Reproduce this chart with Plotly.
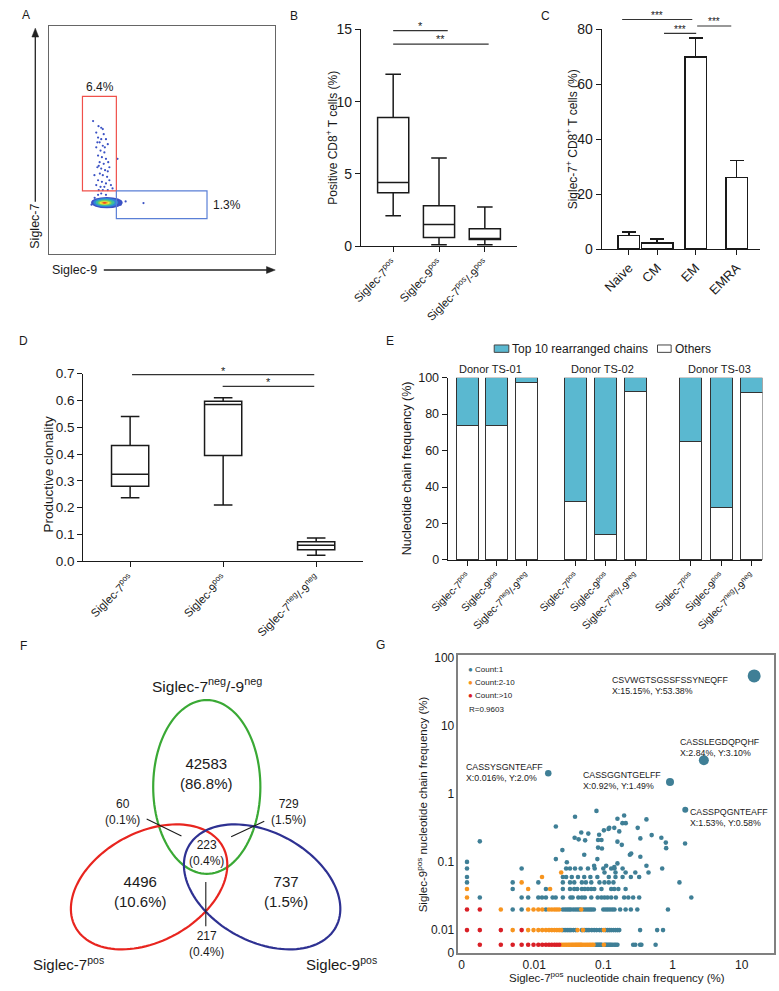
import math
import plotly.graph_objects as go

W, H = 779, 991
FONT = "Liberation Sans, Arial, Helvetica, sans-serif"
INK = "#1a1a1a"

# ------------------------------------------------------------------ data
# A  flow plot (percent-of-plot units)
a_events_x = [19.4, 21.8, 23.0, 20.8, 24.1, 21.6, 23.0, 25.1, 22.3, 23.7, 25.9, 20.8, 22.7, 24.4,
              21.6, 23.3, 25.1, 22.3, 24.1, 26.1, 21.3, 23.0, 24.7, 22.4, 23.7, 25.6, 21.6, 23.3,
              25.1, 26.6, 20.8, 22.7, 24.4, 27.3, 21.9, 23.7, 25.9, 28.0, 30.2, 23.7, 21.3, 24.6,
              21.9, 25.9, 20.0, 26.6, 23.0, 25.1, 21.6, 20.1, 28.7, 31.6, 33.8, 18.7, 41.7]
a_events_y = [58.2, 56.0, 55.3, 53.2, 52.5, 51.0, 50.3, 50.3, 48.9, 47.4, 48.1, 46.7, 45.3, 44.5,
              43.1, 42.4, 41.7, 40.2, 39.5, 40.2, 38.0, 37.4, 36.7, 35.2, 34.5, 33.8, 32.3, 31.6,
              30.9, 32.3, 30.2, 29.4, 29.4, 30.2, 28.0, 28.0, 28.0, 28.7, 41.7, 54.7, 48.9, 46.7,
              38.6, 36.2, 34.5, 38.0, 26.5, 25.9, 25.9, 24.6, 23.0, 21.6, 23.0, 21.6, 22.3]
a_gate_pct = ["6.4%", "1.3%"]
# density core contours: (x0, x1, y0, y1, colour)
a_core = [(18.5, 32.5, 20.0, 25.0, "#3b52c4"), (19.5, 30.5, 20.6, 24.5, "#2f86d8"),
          (20.5, 29.0, 21.0, 24.0, "#3cbf9c"), (21.6, 27.6, 21.4, 23.5, "#8fd14f"),
          (22.3, 26.8, 21.7, 23.1, "#f2e43c"), (23.0, 26.0, 21.9, 22.9, "#f5a623"),
          (23.6, 25.4, 22.1, 22.7, "#e8251f")]

# B
b_groups = ["Siglec-7<sup>pos</sup>", "Siglec-9<sup>pos</sup>", "Siglec-7<sup>pos</sup>/-9<sup>pos</sup>"]
b_low = [2.1, 0.1, 0.1]
b_q1 = [3.7, 0.6, 0.45]
b_med = [4.4, 1.5, 0.5]
b_q3 = [8.9, 2.8, 1.2]
b_high = [11.9, 6.1, 2.7]

# C
c_subsets = ["Naive", "CM", "EM", "EMRA"]
c_mean = [5.0, 2.2, 69.9, 26.1]
c_sem = [1.2, 1.4, 6.9, 6.1]

# D
d_groups = ["Siglec-7<sup>pos</sup>", "Siglec-9<sup>pos</sup>", "Siglec-7<sup>neg</sup>/-9<sup>neg</sup>"]
d_low = [0.237, 0.21, 0.022]
d_q1 = [0.28, 0.395, 0.043]
d_med = [0.325, 0.585, 0.060]
d_q3 = [0.432, 0.597, 0.073]
d_high = [0.54, 0.61, 0.087]

# E
e_donors = ["Donor TS-01", "Donor TS-02", "Donor TS-03"]
e_groups = ["Siglec-7<sup>pos</sup>", "Siglec-9<sup>pos</sup>", "Siglec-7<sup>neg</sup>/-9<sup>neg</sup>"] * 3
e_others = [74.0, 74.0, 97.3, 32.0, 14.0, 92.3, 64.7, 28.5, 92.0]
e_top10 = [26.0, 26.0, 2.7, 68.0, 86.0, 7.7, 35.3, 71.5, 8.0]
e_series = ["Top 10 rearranged chains", "Others"]

# F  Venn
f_sets = ["Siglec-7<sup>neg</sup>/-9<sup>neg</sup>", "Siglec-7<sup>pos</sup>", "Siglec-9<sup>pos</sup>"]
f_regions = {"neg_only": ("42583", "86.8%"), "s7_only": ("4496", "10.6%"), "s9_only": ("737", "1.5%"),
             "all": ("223", "0.4%"), "neg_s7": ("60", "0.1%"), "neg_s9": ("729", "1.5%"),
             "s7_s9": ("217", "0.4%")}

# G  (0 = zero frequency)
g_c1_rows = [
    (0, [0.077, 0.08, 0.083, 0.086, 0.089, 0.092, 0.095, 0.106, 0.11, 0.115, 0.12, 0.125, 0.13, 0.137,
         0.145, 0.152, 0.16, 0.27, 0.29, 0.34, 0.355, 0.57]),
    (0.01, [0.026, 0.028, 0.030, 0.032, 0.034, 0.037, 0.04, 0.049, 0.054, 0.058, 0.062, 0.068, 0.074,
            0.08, 0.088, 0.094, 0.108, 0.115, 0.122, 0.13, 0.14, 0.15, 0.16, 0.17, 0.34, 0.6, 0.73]),
    (0.02, [0.0049, 0.0066, 0.0148, 0.026, 0.028, 0.03, 0.032, 0.034, 0.037, 0.04, 0.043, 0.046, 0.052,
            0.056, 0.06, 0.064, 0.068, 0.073, 0.1, 0.108, 0.116, 0.125, 0.135, 0.145, 0.175, 0.21,
            0.25, 0.31, 0.86]),
    (0.03, [0.00164, 0.0066, 0.0082, 0.0115, 0.013, 0.0148, 0.0185, 0.0205, 0.026, 0.0335, 0.036,
            0.0435, 0.049, 0.054, 0.067, 0.083, 0.094, 0.104, 0.115, 0.13, 0.152, 0.2, 0.23, 0.27,
            0.33, 1.87]),
    (0.04, [0.0049, 0.0148, 0.026, 0.033, 0.038, 0.042, 0.049, 0.054, 0.06, 0.067, 0.074, 0.094, 0.13,
            0.144, 0.165, 0.21]),
    (0.05, [0.00107, 0.0049, 0.0115, 0.026, 0.033, 0.038, 0.049, 0.056, 0.067, 0.088, 0.104, 0.12,
            0.14, 1.26]),
    (0.06, [0.00107, 0.026, 0.029, 0.035, 0.043, 0.053, 0.065, 0.082, 0.12, 0.15, 0.19, 0.25, 0.33]),
    (0.07, [0.104, 0.15, 0.21, 0.29, 0.45]),
    (0.08, [0.00107, 0.0066, 0.029, 0.033, 0.039, 0.047, 0.06, 0.075, 0.1, 0.13, 0.145, 0.19, 0.71]),
    (0.1, [0.00107]),
]
g_c1_free_x = [0.00164, 0.0206, 0.039, 0.0796, 0.16, 0.2, 0.42, 0.0385, 0.044, 0.0546, 0.048, 0.0607,
               0.087, 0.102, 0.119, 0.144, 0.17, 0.189, 0.211, 0.314, 0.084, 0.16, 0.185, 0.343, 0.5,
               0.69, 0.8, 0.81, 1.52, 0.053, 0.084, 0.0955, 0.0256, 0.0206, 0.0297, 0.082, 0.0736,
               0.11, 0.16, 0.144, 0.242, 0.253, 0.343, 0.42, 0.094, 0.122]
g_c1_free_y = [0.2, 0.33, 0.46, 0.56, 0.43, 0.48, 0.42, 0.226, 0.214, 0.207, 0.27, 0.26, 0.25, 0.29,
               0.305, 0.316, 0.28, 0.37, 0.37, 0.316, 0.21, 0.198, 0.178, 0.221, 0.247, 0.226, 0.192,
               0.159, 0.186, 0.127, 0.162, 0.157, 0.149, 0.11, 0.099, 0.11, 0.088, 0.088, 0.095,
               0.084, 0.127, 0.133, 0.119, 0.088, 0.21, 0.316]
g_c2_rows = [
    (0, [0.0246, 0.0262, 0.0279, 0.0295, 0.0312, 0.0328, 0.0345, 0.0361, 0.0377, 0.0394, 0.041, 0.0426,
         0.0443, 0.0459, 0.0476, 0.0492, 0.0525, 0.0558, 0.059, 0.0623, 0.0656, 0.069, 0.0722, 0.102]),
    (0.01, [0.0049, 0.0082, 0.0098, 0.0115, 0.0131, 0.0148, 0.0164, 0.018, 0.0197, 0.0213, 0.023,
            0.0246, 0.0425, 0.051, 0.102]),
    (0.02, [0.0033, 0.0082, 0.0098, 0.0115, 0.0131, 0.0164, 0.018, 0.0197, 0.0213, 0.023, 0.048]),
    (0.03, [0.00107]),
    (0.04, [0.00107, 0.0082, 0.017]),
    (0.05, [0.0066]),
    (0.06, [0.013]),
    (0.07, [0.0246]),
]
g_c3_rows = [
    (0, [0.00164, 0.0033, 0.0049, 0.0066, 0.0082, 0.0098, 0.0115, 0.0131, 0.0148, 0.0164, 0.018,
         0.0197, 0.0213, 0.023]),
    (0.01, [0.00107, 0.00164, 0.0033, 0.0066]),
    (0.02, [0.00107, 0.00164]),
]
g_top_names = ["CSVWGTSGSSFSSYNEQFF", "CASSLEGDQPQHF", "CASSYSGNTEAFF", "CASSGGNTGELFF", "CASSPQGNTEAFF"]
g_top_x = [15.15, 2.84, 0.016, 0.92, 1.53]
g_top_y = [53.38, 3.10, 2.0, 1.49, 0.58]
g_top_txt = ["X:15.15%, Y:53.38%", "X:2.84%, Y:3.10%", "X:0.016%, Y:2.0%", "X:0.92%, Y:1.49%",
             "X:1.53%, Y:0.58%"]
g_legend = ["Count:1", "Count:2-10", "Count:>10"]
g_r = "R=0.9603"
G_ZERO_POS = 0.0061  # where a zero frequency is drawn on the log axis

# ------------------------------------------------------------------ helpers
def dx(a, b):
    return [a / W, b / W]


def dy(top, bottom):
    return [1 - bottom / H, 1 - top / H]


shapes, annos = [], []


def txt(px, py, s, size, xanchor="center", yanchor="middle", angle=0, color=INK, align="center"):
    annos.append(dict(x=px / W, y=1 - py / H, xref="paper", yref="paper", text=s, showarrow=False,
                      font=dict(family=FONT, size=size, color=color), xanchor=xanchor, align=align,
                      yanchor=yanchor, textangle=angle, borderpad=0))


def pline(x0, y0, x1, y1, color=INK, width=1.2):
    shapes.append(dict(type="line", xref="paper", yref="paper", x0=x0 / W, y0=1 - y0 / H,
                       x1=x1 / W, y1=1 - y1 / H, line=dict(color=color, width=width)))


def ppoly(pts, color):
    path = "M " + " L ".join(f"{x / W:.5f},{1 - y / H:.5f}" for x, y in pts) + " Z"
    shapes.append(dict(type="path", xref="paper", yref="paper", path=path, fillcolor=color,
                       line=dict(color=color, width=0.5)))


def ellipse(cx, cy, a, b, ang, color, width=2.2, n=120):
    t = math.radians(ang)
    pts = []
    for i in range(n + 1):
        th = 2 * math.pi * i / n
        x = cx + a * math.cos(th) * math.cos(t) - b * math.sin(th) * math.sin(t)
        y = cy + a * math.cos(th) * math.sin(t) + b * math.sin(th) * math.cos(t)
        pts.append(f"{x / W:.5f},{1 - y / H:.5f}")
    shapes.append(dict(type="path", xref="paper", yref="paper", path="M " + " L ".join(pts) + " Z",
                       line=dict(color=color, width=width)))


def rows_to_xy(rows):
    xs, ys = [], []
    for yv, xl in rows:
        for xv in xl:
            xs.append(xv)
            ys.append(G_ZERO_POS if yv == 0 else yv)
    return xs, ys


fig = go.Figure()
axis_line = dict(showline=True, linecolor=INK, linewidth=1.3, showgrid=False, zeroline=False,
                 ticks="outside", ticklen=5, tickwidth=1.3, tickcolor=INK)

# ------------------------------------------------------------------ A
fig.add_trace(go.Scatter(x=a_events_x, y=a_events_y, mode="markers", xaxis="x", yaxis="y",
                         marker=dict(size=2.2, color="#3b52c4"), hoverinfo="skip", showlegend=False))
for x0, x1, y0, y1, col in a_core:
    shapes.append(dict(type="circle", xref="x", yref="y", x0=x0, x1=x1, y0=y0, y1=y1,
                       fillcolor=col, line=dict(width=0), layer="above"))
shapes.append(dict(type="rect", xref="x", yref="y", x0=14.7, x1=29.7, y0=27.6, y1=69.0,
                   line=dict(color="#f0504a", width=1.2)))
shapes.append(dict(type="rect", xref="x", yref="y", x0=29.7, x1=69.8, y0=15.5, y1=27.6,
                   line=dict(color="#5a7fd6", width=1.2)))

# ------------------------------------------------------------------ B
b_pos = [1, 2, 3]
fig.add_trace(go.Box(x=b_pos, q1=b_q1, median=b_med, q3=b_q3, lowerfence=b_low, upperfence=b_high,
                     xaxis="x2", yaxis="y2", orientation="v", width=0.68, whiskerwidth=0.5,
                     fillcolor="white", line=dict(color=INK, width=1.5), boxpoints=False,
                     hoverinfo="skip", showlegend=False))

# ------------------------------------------------------------------ C
c_pos = [28, 57, 96.5, 138.5]
c_width = [22, 32, 22, 22]
fig.add_trace(go.Bar(x=c_pos, y=c_mean, width=c_width, xaxis="x3", yaxis="y3",
                     marker=dict(color="white", line=dict(color=INK, width=1.5)),
                     error_y=dict(type="data", array=c_sem, arrayminus=[0] * 4, symmetric=False,
                                  color=INK, thickness=1.5, width=7),
                     hoverinfo="skip", showlegend=False))

# ------------------------------------------------------------------ D
d_pos = [1, 2, 3]
fig.add_trace(go.Box(x=d_pos, q1=d_q1, median=d_med, q3=d_q3, lowerfence=d_low, upperfence=d_high,
                     xaxis="x4", yaxis="y4", orientation="v", width=0.4, whiskerwidth=0.5,
                     fillcolor="white", line=dict(color=INK, width=1.5), boxpoints=False,
                     hoverinfo="skip", showlegend=False))

# ------------------------------------------------------------------ E
TEAL = "#5ab8d0"
e_pos = [1, 2, 3, 4.64, 5.66, 6.66, 8.52, 9.54, 10.56]
fig.add_trace(go.Bar(x=e_pos, y=e_others, width=0.74, name=e_series[1], xaxis="x5", yaxis="y5",
                     marker=dict(color="white", line=dict(color="#333", width=1)),
                     hoverinfo="skip", showlegend=False))
fig.add_trace(go.Bar(x=e_pos, y=e_top10, width=0.74, name=e_series[0], xaxis="x5", yaxis="y5",
                     marker=dict(color=TEAL, line=dict(color="#333", width=1)),
                     hoverinfo="skip", showlegend=False))

# ------------------------------------------------------------------ G
C1, C2, C3 = "#3f7f96", "#f7941e", "#d91f26"
for rows, col, extra_x, extra_y in [(g_c1_rows, C1, g_c1_free_x, g_c1_free_y),
                                    (g_c2_rows, C2, [], []), (g_c3_rows, C3, [], [])]:
    xs, ys = rows_to_xy(rows)
    fig.add_trace(go.Scatter(x=xs + extra_x, y=ys + extra_y, mode="markers", xaxis="x6", yaxis="y6",
                             marker=dict(size=4.6, color=col, opacity=1, line=dict(width=0)),
                             hoverinfo="skip", showlegend=False))
fig.add_trace(go.Scatter(x=g_top_x, y=g_top_y, mode="markers", xaxis="x6", yaxis="y6",
                         marker=dict(size=[13, 10, 6.5, 8, 6], color=C1, opacity=1, line=dict(width=0)),
                         hoverinfo="skip", showlegend=False))

# ------------------------------------------------------------------ layout axes
hidden = dict(showgrid=False, zeroline=False, showticklabels=False, ticks="")
layout = dict(
    width=W, height=H, margin=dict(l=0, r=0, t=0, b=0), paper_bgcolor="white", plot_bgcolor="rgba(0,0,0,0)",
    font=dict(family=FONT, color=INK), barmode="stack", showlegend=False,
    xaxis=dict(domain=dx(30, 262), range=[0, 100], showline=True, mirror=True, linecolor="#666",
               linewidth=1, **hidden),
    yaxis=dict(domain=dy(18, 250), range=[0, 100], showline=True, mirror=True, linecolor="#666",
               linewidth=1, **hidden),
    xaxis2=dict(domain=dx(350, 510), range=[0.298, 3.70], tickvals=b_pos, ticktext=b_groups,
                tickangle=-45, tickfont=dict(size=11.5), anchor="y2", **axis_line),
    yaxis2=dict(domain=dy(21.7, 242), range=[0, 15], tickvals=[0, 5, 10, 15], tickfont=dict(size=14),
                anchor="x2", **axis_line),
    xaxis3=dict(domain=dx(597, 759), range=[0, 162], tickvals=c_pos, ticktext=c_subsets,
                tickangle=-45, tickfont=dict(size=13), anchor="y3", **axis_line),
    yaxis3=dict(domain=dy(21.7, 245), range=[0, 80], tickvals=[0, 20, 40, 60, 80],
                tickfont=dict(size=14), anchor="x3", **axis_line),
    xaxis4=dict(domain=dx(65, 352), range=[0.497, 3.503], tickvals=d_pos, ticktext=d_groups,
                tickangle=-45, tickfont=dict(size=11.5), anchor="y4", **axis_line),
    yaxis4=dict(domain=dy(371.7, 562.3), range=[0, 0.7], tickvals=[0, 0.1, 0.2, 0.3, 0.4, 0.5, 0.6, 0.7],
                tickformat=".1f", tickfont=dict(size=13.5), anchor="x4", **axis_line),
    xaxis5=dict(domain=dx(439, 762), range=[0.344, 10.93], tickvals=e_pos, ticktext=e_groups,
                tickangle=-45, tickfont=dict(size=10.5), anchor="y5", **axis_line),
    yaxis5=dict(domain=dy(375.7, 561), range=[0, 100], tickvals=[0, 20, 40, 60, 80, 100],
                tickfont=dict(size=12.5), anchor="x5", **axis_line),
    xaxis6=dict(domain=dx(450, 774), type="log", range=[-3.094, 1.469],
                tickvals=[0.000895, 0.01, 0.1, 1, 10], ticktext=["0", "0.01", "0.1", "1", "10"],
                showline=True, mirror=True, linecolor="#808080", linewidth=1.5, showgrid=False,
                zeroline=False, ticks="", tickfont=dict(size=12), anchor="y6"),
    yaxis6=dict(domain=dy(658, 960.7), type="log", range=[-2.339, 2.029],
                tickvals=[0.00468, 0.01, 0.1, 1, 10, 100], ticktext=["0", "0.01", "0.1", "1", "10", "100"],
                showline=True, mirror=True, linecolor="#808080", linewidth=1.5, showgrid=False,
                zeroline=False, ticks="", tickfont=dict(size=12), anchor="x6"),
)

# ------------------------------------------------------------------ annotations / decorations
# panel letters
for L, px, py in [("A", 6, 7), ("B", 281, 8), ("C", 539, 8), ("D", 4, 338), ("E", 380, 338),
                  ("F", 4, 648), ("G", 370, 647)]:
    txt(px, py, L, 12)

# A
txt(81.7, 80, a_gate_pct[0], 12)
txt(212.7, 200, a_gate_pct[1], 12)
txt(55.5, 266.5, "Siglec-9", 12.5)
txt(15.7, 222, "Siglec-7", 12.5, angle=-90)
pline(15.7, 197, 15.7, 27, "#222", 1.3)
ppoly([(15.7, 20.5), (12.2, 29.5), (19.2, 29.5)], "#222")
pline(86, 266.3, 254, 266.3, "#222", 1.3)
ppoly([(262, 266.3), (253, 262.8), (253, 269.8)], "#222")

# B
txt(320, 132, "Positive CD8<sup>+</sup> T cells (%)", 12, angle=-90)
pline(383, 23, 439, 23, "#333", 1.2)
pline(383, 36.7, 481, 36.7, "#333", 1.2)
txt(411, 18.5, "*", 11)
txt(432, 32, "**", 11)

# C
txt(566, 133, "Siglec-7<sup>+</sup> CD8<sup>+</sup> T cells (%)", 12, angle=-90)
pline(618, 11.7, 690, 11.7, "#333", 1.2)
pline(661, 25.7, 694, 25.7, "#333", 1.2)
pline(695, 18.3, 730, 18.3, "#333", 1.2)
txt(654, 7.5, "***", 10)
txt(677.5, 21.5, "***", 10)
txt(712.5, 14, "***", 10)

# D
txt(29, 474, "Productive clonality", 13.5, angle=-90)
pline(115, 372.7, 302, 372.7, "#333", 1.2)
pline(208, 384.5, 302, 384.5, "#333", 1.2)
txt(209, 368.5, "*", 11)
txt(255, 380.5, "*", 11)

# E
txt(398, 468, "Nucleotide chain frequency (%)", 12.5, angle=-90)
shapes.append(dict(type="rect", xref="paper", yref="paper", x0=486.7 / W, x1=501.7 / W,
                   y0=1 - 350 / H, y1=1 - 342.5 / H, fillcolor=TEAL, line=dict(color="#444", width=1)))
txt(504, 346.3, e_series[0], 12, xanchor="left")
shapes.append(dict(type="rect", xref="paper", yref="paper", x0=654.3 / W, x1=668.3 / W,
                   y0=1 - 350 / H, y1=1 - 342.5 / H, fillcolor="white", line=dict(color="#444", width=1)))
txt(671, 346.3, e_series[1], 12, xanchor="left")
for name, cx in zip(e_donors, [483.3, 598.3, 718.3]):
    txt(cx, 366.5, name, 11)

# F
ellipse(191.7, 791.7, 55, 88.3, 0, "#3aa935")
ellipse(132.5, 893.3, 86, 55.5, -28, "#e8251f")
ellipse(248.5, 893.3, 86, 55.5, 28, "#2e3192")
txt(191.7, 688, f_sets[0], 15.5)
txt(50, 971.5, f_sets[1], 15)
txt(330, 971.5, f_sets[2], 15)
big = [("neg_only", 191.7, 778.5), ("s7_only", 123.3, 898.5), ("s9_only", 273.3, 898.5)]
for key, cx, cy in big:
    n, p = f_regions[key]
    txt(cx, cy, f"{n}<br>({p})", 15)
small = [("all", 191.7, 858.7), ("neg_s7", 105, 817.2), ("neg_s9", 276, 817.2), ("s7_s9", 191.7, 951.3)]
for key, cx, cy in small:
    n, p = f_regions[key]
    txt(cx, cy, f"{n}<br>({p})", 12)
pline(130, 824.3, 165.7, 841.7, INK, 1.1)
pline(216.7, 842.3, 250.7, 826.7, INK, 1.1)
pline(190.7, 888.3, 190.7, 933.3, INK, 1.1)

# G
txt(613, 985, "Siglec-7<sup>pos</sup> nucleotide chain frequency (%)", 11.5)
txt(413, 809, "Siglec-9<sup>pos</sup> nucleotide chain frequency (%)", 11.5, angle=-90)
for lbl, col, py in zip(g_legend, [C1, C2, C3], [672, 685.5, 699]):
    txt(459, py, f'<span style="color:{col}">●</span> {lbl}', 8, xanchor="left")
txt(460, 713, g_r, 8, xanchor="left")
g_lbl_pos = [(606.7, 688.5), (676.7, 751.3), (456.7, 777), (576.7, 785.3), (686.7, 823.2)]
for name, vals, (lx, ly) in zip(g_top_names, g_top_txt, g_lbl_pos):
    txt(lx, ly, f"{name}<br>{vals}", 8.8, xanchor="left", align="left")

layout["shapes"] = shapes
layout["annotations"] = annos
fig.update_layout(**layout)
fig.write_html("out.html", config={"displayModeBar": False},
               post_script="document.body.style.margin='0';document.body.style.overflow='hidden';")
